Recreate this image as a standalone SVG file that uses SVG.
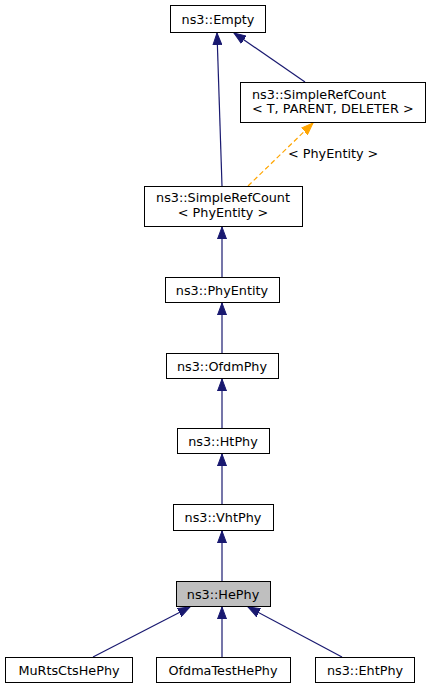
<svg xmlns="http://www.w3.org/2000/svg" width="431" height="688" viewBox="0 0 431 688">
<defs>
<style>
.n rect{fill:#fff;stroke:#000;stroke-width:1}
.n text{font-family:"DejaVu Sans","Liberation Sans",sans-serif;font-size:12.8px;fill:#000}
.c{fill:none;stroke:#191970;stroke-width:1.2}
.d{fill:none;stroke:#ffa500;stroke-width:1.2;stroke-dasharray:5,3}
.lbl{font-family:"DejaVu Sans","Liberation Sans",sans-serif;font-size:12.8px;fill:#000}
</style>
<marker id="ab" markerWidth="13" markerHeight="10" refX="12" refY="5" orient="auto" markerUnits="userSpaceOnUse"><path d="M0,0.5 L12,5 L0,9.5 Z" fill="#191970" stroke="#191970"/></marker>
<marker id="ao" markerWidth="13" markerHeight="10" refX="12" refY="5" orient="auto" markerUnits="userSpaceOnUse"><path d="M0,0.5 L12,5 L0,9.5 Z" fill="#ffa500" stroke="#ffa500"/></marker>
</defs>
<rect width="431" height="688" fill="#fff"/>
<g id="connectors">
<path class="c" d="M222,186 L217,33" marker-end="url(#ab)"/>
<path class="c" d="M305,82 L234,33" marker-end="url(#ab)"/>
<path class="d" d="M248,186 L313,123" marker-end="url(#ao)"/>
<text class="lbl" x="288" y="158">&lt; PhyEntity &gt;</text>
<path class="c" d="M222,277 L222,227" marker-end="url(#ab)"/>
<path class="c" d="M222,353 L222,303" marker-end="url(#ab)"/>
<path class="c" d="M222,428 L222,379" marker-end="url(#ab)"/>
<path class="c" d="M222,504 L222,454" marker-end="url(#ab)"/>
<path class="c" d="M222,581 L222,531" marker-end="url(#ab)"/>
<path class="c" d="M93,657 L190,607" marker-end="url(#ab)"/>
<path class="c" d="M222,657 L222,607" marker-end="url(#ab)"/>
<path class="c" d="M342,657 L248,607" marker-end="url(#ab)"/>
</g>
<g id="empty" class="n"><rect x="170.5" y="5.5" width="95" height="27"/><text x="218" y="23.5" text-anchor="middle">ns3::Empty</text></g>
<g id="srcT" class="n"><rect x="240.5" y="82.5" width="185" height="40"/><text x="252" y="98.5">ns3::SimpleRefCount</text><text x="252" y="112.5">&lt; T, PARENT, DELETER &gt;</text></g>
<g id="srcPhy" class="n"><rect x="144.5" y="186.5" width="158" height="40"/><text x="223" y="202" text-anchor="middle">ns3::SimpleRefCount</text><text x="223" y="216.5" text-anchor="middle">&lt; PhyEntity &gt;</text></g>
<g id="phyEntity" class="n"><rect x="165.5" y="277.5" width="114" height="25"/><text x="222" y="294.5" text-anchor="middle">ns3::PhyEntity</text></g>
<g id="ofdmPhy" class="n"><rect x="166.5" y="353.5" width="112" height="25"/><text x="222" y="370.5" text-anchor="middle">ns3::OfdmPhy</text></g>
<g id="htPhy" class="n"><rect x="177.5" y="428.5" width="92" height="25"/><text x="223" y="445.5" text-anchor="middle">ns3::HtPhy</text></g>
<g id="vhtPhy" class="n"><rect x="173.5" y="504.5" width="100" height="26"/><text x="223" y="522" text-anchor="middle">ns3::VhtPhy</text></g>
<g id="hePhy" class="n"><rect x="176.5" y="581.5" width="94" height="25" style="fill:#bfbfbf"/><text x="223" y="598.5" text-anchor="middle">ns3::HePhy</text></g>
<g id="muRts" class="n"><rect x="5.5" y="657.5" width="127" height="25"/><text x="69" y="674.5" text-anchor="middle">MuRtsCtsHePhy</text></g>
<g id="ofdmaTest" class="n"><rect x="156.5" y="657.5" width="134" height="25"/><text x="223" y="674.5" text-anchor="middle">OfdmaTestHePhy</text></g>
<g id="ehtPhy" class="n"><rect x="315.5" y="657.5" width="99" height="25"/><text x="365" y="674.5" text-anchor="middle">ns3::EhtPhy</text></g>
</svg>
